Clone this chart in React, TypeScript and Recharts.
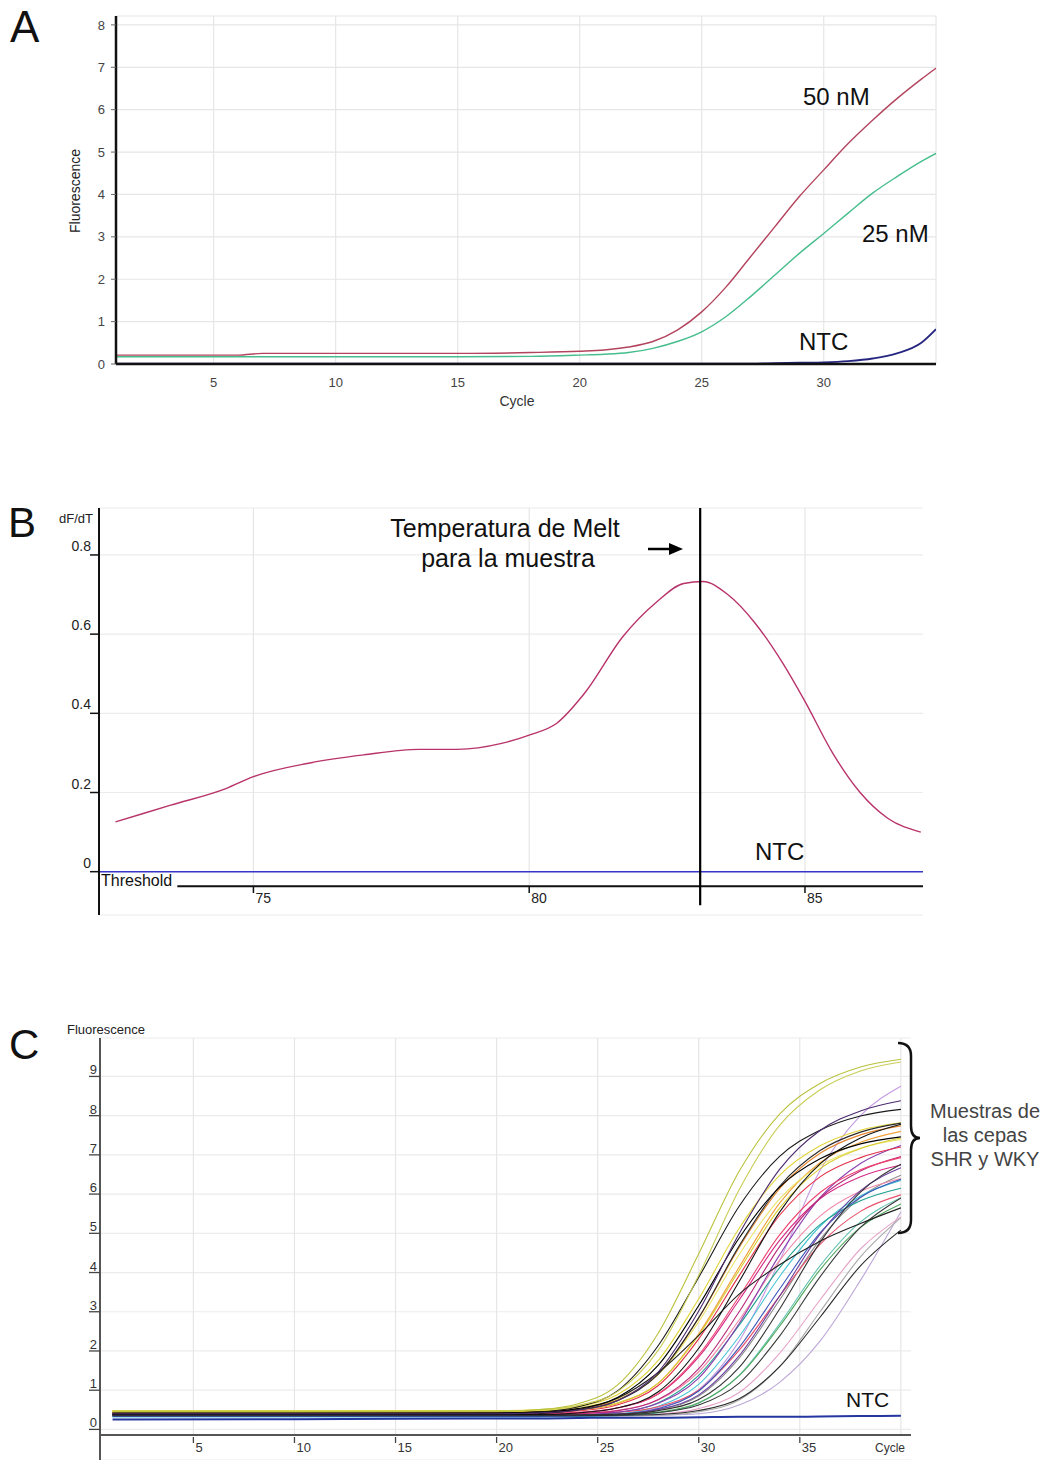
import React from 'react';
import { LineChart, Line, XAxis, YAxis, CartesianGrid, ReferenceLine } from 'recharts';

const FONT = '"Liberation Sans", Arial, Helvetica, sans-serif';

// ---------------- Panel A : amplification (primer concentration) ----------------
const cyclesA = [1, 6, 7, 10, 15, 18, 20, 21, 22, 23, 24, 25, 26, 27, 28, 29, 30, 31, 32, 33, 34, 34.6];
const fluor50nM = [0.21, 0.21, 0.25, 0.25, 0.25, 0.27, 0.30, 0.33, 0.40, 0.53, 0.80, 1.23, 1.82, 2.53, 3.24, 3.95, 4.58, 5.20, 5.75, 6.26, 6.72, 6.98];
const fluor25nM = [0.17, 0.17, 0.17, 0.17, 0.17, 0.18, 0.21, 0.23, 0.27, 0.37, 0.53, 0.76, 1.12, 1.59, 2.10, 2.61, 3.08, 3.56, 4.03, 4.42, 4.78, 4.97];
const fluorNtcA = [0.01, 0.01, 0.01, 0.01, 0.01, 0.01, 0.01, 0.01, 0.01, 0.01, 0.01, 0.01, 0.01, 0.01, 0.02, 0.03, 0.04, 0.07, 0.13, 0.25, 0.50, 0.82];
const xTicksA = [5, 10, 15, 20, 25, 30];
const yTicksA = [0, 1, 2, 3, 4, 5, 6, 7, 8];

// ---------------- Panel B : melt curve ----------------
const tempsB = [72.2, 72.5, 73.5, 74.5, 75.0, 76.0, 77.0, 78.0, 78.7, 79.5, 80.0, 80.5, 81.0, 81.7, 82.3, 82.8, 83.15, 83.6, 84.1, 84.6, 85.0, 85.5, 86.0, 86.5, 87.1, 87.14];
const dfdtSampleB = [null, 0.126, 0.168, 0.21, 0.24, 0.274, 0.295, 0.309, 0.309, 0.324, 0.345, 0.375, 0.45, 0.594, 0.68, 0.728, 0.733, 0.70, 0.627, 0.526, 0.43, 0.30, 0.20, 0.135, 0.10, null];
const dfdtNtcB = [0, 0, 0, 0, 0, 0, 0, 0, 0, 0, 0, 0, 0, 0, 0, 0, 0, 0, 0, 0, 0, 0, 0, 0, 0, 0];
const meltTemp = 83.1;
const thresholdLevel = -0.0366;
const thresholdStart = 73.62;
const xTicksB = [75, 80, 85];
const yTicksB = [0, 0.2, 0.4, 0.6, 0.8];

// ---------------- Panel C : SHR / WKY samples ----------------
const cyclesC = [1, 10, 20, 22, 24, 26, 28, 30, 32, 34, 36, 38, 40];
const sample01 = [0.45, 0.45, 0.46, 0.50, 0.65, 1.14, 2.46, 4.48, 6.58, 8.04, 8.82, 9.24, 9.44];
const sample02 = [0.47, 0.47, 0.47, 0.50, 0.61, 0.97, 2.02, 3.93, 6.11, 7.75, 8.66, 9.14, 9.37];
const sample03 = [0.40, 0.40, 0.41, 0.44, 0.57, 0.99, 2.14, 3.88, 5.69, 6.96, 7.63, 7.99, 8.16];
const sample04 = [0.40, 0.40, 0.40, 0.42, 0.49, 0.74, 1.47, 3.02, 4.99, 6.63, 7.62, 8.12, 8.38];
const sample05 = [0.42, 0.42, 0.42, 0.44, 0.50, 0.74, 1.41, 2.85, 4.68, 6.20, 7.11, 7.58, 7.81];
const sample06 = [0.48, 0.48, 0.48, 0.50, 0.59, 0.89, 1.76, 3.33, 5.13, 6.48, 7.23, 7.63, 7.82];
const sample07 = [0.44, 0.44, 0.44, 0.45, 0.49, 0.66, 1.18, 2.44, 4.14, 5.77, 6.80, 7.32, 7.60];
const sample08 = [0.48, 0.48, 0.48, 0.49, 0.56, 0.78, 1.40, 2.75, 4.46, 5.88, 6.73, 7.17, 7.39];
const sample09 = [0.42, 0.42, 0.42, 0.43, 0.47, 0.63, 1.12, 2.31, 3.92, 5.46, 6.44, 6.93, 7.20];
const sample10 = [0.40, 0.40, 0.40, 0.40, 0.43, 0.55, 0.90, 1.85, 3.30, 4.82, 5.88, 6.44, 6.74];
const sample11 = [0.40, 0.40, 0.40, 0.40, 0.42, 0.49, 0.75, 1.47, 2.79, 4.31, 5.44, 6.07, 6.40];
const sample12 = [0.38, 0.38, 0.38, 0.38, 0.42, 0.55, 0.96, 2.07, 3.77, 5.54, 6.77, 7.43, 7.78];
const sample13 = [0.34, 0.34, 0.34, 0.34, 0.36, 0.43, 0.68, 1.38, 2.66, 4.12, 5.22, 5.83, 6.15];
const sample14 = [0.32, 0.32, 0.32, 0.32, 0.33, 0.39, 0.59, 1.15, 2.37, 3.90, 5.18, 5.95, 6.35];
const sample15 = [0.36, 0.36, 0.36, 0.36, 0.37, 0.44, 0.67, 1.31, 2.70, 4.45, 5.91, 6.78, 7.24];
const sample16 = [0.36, 0.36, 0.36, 0.36, 0.37, 0.40, 0.55, 1.01, 2.25, 4.30, 6.60, 8.00, 8.75];
const sample17 = [0.38, 0.38, 0.38, 0.40, 0.50, 0.80, 1.45, 2.40, 3.45, 4.20, 4.80, 5.25, 5.65];
const sample18 = [0.40, 0.40, 0.40, 0.40, 0.41, 0.44, 0.58, 1.00, 2.02, 3.40, 4.72, 5.56, 5.98];
const sample19 = [0.35, 0.35, 0.35, 0.35, 0.36, 0.38, 0.50, 0.85, 1.82, 3.30, 4.84, 5.91, 6.48];
const sample20 = [0.33, 0.33, 0.33, 0.33, 0.34, 0.38, 0.53, 0.98, 2.09, 3.58, 5.01, 5.92, 6.38];
const sample21 = [0.35, 0.35, 0.35, 0.35, 0.35, 0.37, 0.44, 0.68, 1.37, 2.63, 4.07, 5.15, 5.75];
const sample22 = [0.37, 0.37, 0.37, 0.37, 0.37, 0.39, 0.48, 0.76, 1.58, 3.07, 4.77, 6.05, 6.76];
const sample23 = [0.33, 0.33, 0.33, 0.33, 0.33, 0.34, 0.36, 0.40, 0.62, 1.20, 2.25, 3.80, 5.55];
const sample24 = [0.34, 0.34, 0.34, 0.34, 0.34, 0.35, 0.36, 0.45, 0.75, 1.60, 3.00, 4.40, 5.40];
const sample25 = [0.36, 0.36, 0.36, 0.36, 0.36, 0.37, 0.43, 0.62, 1.18, 2.38, 3.89, 5.15, 5.90];
const sample26 = [0.35, 0.35, 0.35, 0.35, 0.35, 0.36, 0.39, 0.53, 0.94, 1.94, 3.30, 4.60, 5.42];
const sample27 = [0.33, 0.33, 0.33, 0.33, 0.33, 0.35, 0.42, 0.67, 1.38, 2.69, 4.17, 5.29, 5.91];
const sample28 = [0.38, 0.38, 0.38, 0.38, 0.40, 0.48, 0.76, 1.55, 3.00, 4.66, 5.90, 6.59, 6.96];
const sample29 = [0.44, 0.44, 0.44, 0.46, 0.52, 0.76, 1.42, 2.84, 4.64, 6.14, 7.04, 7.51, 7.74];
const sample30 = [0.42, 0.42, 0.42, 0.44, 0.53, 0.82, 1.64, 3.16, 4.88, 6.18, 6.90, 7.28, 7.46];
const sample31 = [0.36, 0.36, 0.36, 0.36, 0.37, 0.39, 0.51, 0.88, 1.88, 3.40, 4.98, 6.09, 6.67];
const sample32 = [0.35, 0.35, 0.35, 0.35, 0.35, 0.36, 0.38, 0.48, 0.78, 1.60, 2.86, 4.17, 5.08];
const sample33 = [0.40, 0.40, 0.40, 0.41, 0.43, 0.55, 0.91, 1.90, 3.39, 4.96, 6.04, 6.62, 6.93];
const sample34 = [0.46, 0.46, 0.46, 0.47, 0.51, 0.68, 1.18, 2.40, 4.06, 5.64, 6.65, 7.16, 7.43];
const ntcC = [0.25, 0.26, 0.28, 0.28, 0.29, 0.30, 0.30, 0.31, 0.32, 0.32, 0.33, 0.34, 0.35];
const xTicksC = [5, 10, 15, 20, 25, 30, 35];
const xGridC = [5, 10, 15, 20, 25, 30, 35, 40];
const yTicksC = [0, 1, 2, 3, 4, 5, 6, 7, 8, 9];
const axisLevelC = -0.143;

// drawing order (light first) and colours
const seriesC: { key: string; color: string; values: number[] }[] = [
  { key: 's23', color: '#bba6d6', values: sample23 },
  { key: 's24', color: '#a8a8a8', values: sample24 },
  { key: 's26', color: '#e6a4c8', values: sample26 },
  { key: 's16', color: '#c49ae0', values: sample16 },
  { key: 's19', color: '#8c8c8c', values: sample19 },
  { key: 's27', color: '#62c2b0', values: sample27 },
  { key: 's14', color: '#48c4d4', values: sample14 },
  { key: 's21', color: '#52a85e', values: sample21 },
  { key: 's11', color: '#f088a8', values: sample11 },
  { key: 's13', color: '#1fa08e', values: sample13 },
  { key: 's18', color: '#e8506a', values: sample18 },
  { key: 's20', color: '#3a56b8', values: sample20 },
  { key: 's31', color: '#6c3fa0', values: sample31 },
  { key: 's15', color: '#8a3eb0', values: sample15 },
  { key: 's10', color: '#d42a86', values: sample10 },
  { key: 's28', color: '#b8287a', values: sample28 },
  { key: 's33', color: '#ee4470', values: sample33 },
  { key: 's09', color: '#e23048', values: sample09 },
  { key: 's07', color: '#f0a23c', values: sample07 },
  { key: 's29', color: '#e4862e', values: sample29 },
  { key: 's08', color: '#ece46a', values: sample08 },
  { key: 's34', color: '#d8cc30', values: sample34 },
  { key: 's06', color: '#e2d43a', values: sample06 },
  { key: 's25', color: '#3a3a3a', values: sample25 },
  { key: 's32', color: '#2b2b2b', values: sample32 },
  { key: 's22', color: '#333333', values: sample22 },
  { key: 's17', color: '#202020', values: sample17 },
  { key: 's12', color: '#111111', values: sample12 },
  { key: 's05', color: '#2a2a2a', values: sample05 },
  { key: 's30', color: '#000000', values: sample30 },
  { key: 's03', color: '#1a1a1a', values: sample03 },
  { key: 's04', color: '#4b2a6e', values: sample04 },
  { key: 's02', color: '#c9cd55', values: sample02 },
  { key: 's01', color: '#b9c23c', values: sample01 },
];

// ---------------- tables built from arrays ----------------
const dataA = cyclesA.map((c, i) => ({ cycle: c, nm50: fluor50nM[i], nm25: fluor25nM[i], ntc: fluorNtcA[i] }));
const dataB = tempsB.map((t, i) => ({ t, sample: dfdtSampleB[i], ntc: dfdtNtcB[i] }));
const dataC = cyclesC.map((c, i) => {
  const row: Record<string, number> = { cycle: c, ntc: ntcC[i] };
  seriesC.forEach((s) => { row[s.key] = s.values[i]; });
  return row;
});

// ---------------- custom ticks ----------------
const BXTick = (props: any) => {
  const { x, y, payload } = props;
  return (
    <g>
      <line x1={x} x2={x} y1={y - 29} y2={y - 22} stroke="#111" strokeWidth={1.5} />
      <text x={x + 2} y={y - 12} fontSize={14} fill="#222" fontFamily={FONT}>{payload.value}</text>
    </g>
  );
};
const BYTick = (props: any) => {
  const { x, y, payload } = props;
  const v = payload.value;
  return (
    <g>
      <line x1={x - 9} x2={x} y1={y} y2={y} stroke="#111" strokeWidth={1.5} />
      <text x={x - 8} y={y - 4} textAnchor="end" fontSize={14} fill="#222" fontFamily={FONT}>{v === 0 ? '0' : String(v)}</text>
    </g>
  );
};
const CXTick = (props: any) => {
  const { x, y, payload } = props;
  return (
    <g>
      <line x1={x} x2={x} y1={y - 23} y2={y - 17} stroke="#444" strokeWidth={1.3} />
      <text x={x + 2} y={y - 8} fontSize={13} fill="#333" fontFamily={FONT}>{payload.value}</text>
    </g>
  );
};
const CYTick = (props: any) => {
  const { x, y, payload } = props;
  return (
    <g>
      <line x1={x - 11} x2={x} y1={y} y2={y} stroke="#444" strokeWidth={1.3} />
      <text x={x - 3} y={y - 2} textAnchor="end" fontSize={13} fill="#333" fontFamily={FONT}>{payload.value}</text>
    </g>
  );
};

export default function App() {
  return (
    <div style={{ position: 'absolute', left: 0, top: 0, width: 1053, height: 1460, overflow: 'hidden', background: '#fff', fontFamily: FONT }}>
      {/* Panel A */}
      <div style={{ position: 'absolute', left: 0, top: 0 }}>
        <LineChart width={1053} height={420} data={dataA} margin={{ top: 16, right: 117, bottom: 26, left: 56 }}>
          <CartesianGrid stroke="#e6e6e6" strokeWidth={1.2} />
          <XAxis dataKey="cycle" type="number" domain={[1, 34.6]} allowDataOverflow ticks={xTicksA} height={30}
            tickLine={false} tickSize={0} tickMargin={14} axisLine={{ stroke: '#111', strokeWidth: 2.5 }}
            tick={{ fontSize: 13, fill: '#444', fontFamily: FONT }} />
          <YAxis type="number" domain={[0, 8.21]} allowDataOverflow ticks={yTicksA} width={60}
            tickSize={5} tickMargin={6} tickLine={{ stroke: '#666' }} axisLine={{ stroke: '#111', strokeWidth: 2.5 }}
            tick={{ fontSize: 13, fill: '#444', fontFamily: FONT }} />
          <Line dataKey="nm25" type="monotone" stroke="#46bd8c" strokeWidth={1.4} dot={false} isAnimationActive={false} />
          <Line dataKey="nm50" type="monotone" stroke="#b3445e" strokeWidth={1.4} dot={false} isAnimationActive={false} />
          <Line dataKey="ntc" type="monotone" stroke="#262680" strokeWidth={1.8} dot={false} isAnimationActive={false} />
        </LineChart>
      </div>

      {/* Panel B */}
      <div style={{ position: 'absolute', left: 0, top: 490 }}>
        <LineChart width={1053} height={440} data={dataB} margin={{ top: 18, right: 130, bottom: 0, left: 39 }}>
          <CartesianGrid stroke="#ececec" strokeWidth={1.2} vertical={false} />
          {xTicksB.map((t) => (
            <ReferenceLine key={'gb' + t} segment={[{ x: t, y: thresholdLevel }, { x: t, y: 0.9186 }]} stroke="#e6e6e6" strokeWidth={1.2} />
          ))}
          <XAxis dataKey="t" type="number" domain={[72.2, 87.14]} allowDataOverflow ticks={xTicksB} height={15}
            axisLine={false} tickLine={false} tickSize={0} tickMargin={0} tick={<BXTick />} />
          <YAxis type="number" domain={[-0.1094, 0.9186]} allowDataOverflow ticks={yTicksB} width={60}
            tickLine={false} tickSize={0} tickMargin={0} axisLine={{ stroke: '#111', strokeWidth: 2 }} tick={<BYTick />} />
          <ReferenceLine segment={[{ x: thresholdStart, y: thresholdLevel }, { x: 87.14, y: thresholdLevel }]} stroke="#111" strokeWidth={2} />
          <Line dataKey="ntc" type="linear" stroke="#3838c8" strokeWidth={1.6} dot={false} isAnimationActive={false} />
          <Line dataKey="sample" type="monotone" stroke="#b8336a" strokeWidth={1.4} dot={false} isAnimationActive={false} />
          <ReferenceLine segment={[{ x: meltTemp, y: 0.9186 }, { x: meltTemp, y: -0.085 }]} stroke="#000" strokeWidth={2.2} />
        </LineChart>
      </div>

      {/* Panel C */}
      <div style={{ position: 'absolute', left: 0, top: 1010 }}>
        <LineChart width={1053} height={460} data={dataC} margin={{ top: 28, right: 142, bottom: 0, left: 40 }}>
          <CartesianGrid stroke="#ececec" strokeWidth={1.2} vertical={false} />
          {xGridC.map((c) => (
            <ReferenceLine key={'gc' + c} segment={[{ x: c, y: axisLevelC }, { x: c, y: 9.98 }]} stroke="#e6e6e6" strokeWidth={1.2} />
          ))}
          <XAxis dataKey="cycle" type="number" domain={[0.38, 40.5]} allowDataOverflow ticks={xTicksC} height={10}
            axisLine={false} tickLine={false} tickSize={0} tickMargin={0} tick={<CXTick />} />
          <YAxis type="number" domain={[-0.78, 9.98]} allowDataOverflow ticks={yTicksC} width={60}
            tickLine={false} tickSize={0} tickMargin={0} axisLine={{ stroke: '#555', strokeWidth: 2 }} tick={<CYTick />} />
          <ReferenceLine segment={[{ x: 0.38, y: axisLevelC }, { x: 40.5, y: axisLevelC }]} stroke="#555" strokeWidth={2} />
          {seriesC.map((s) => (
            <Line key={s.key} dataKey={s.key} type="monotone" stroke={s.color} strokeWidth={1.1} dot={false} isAnimationActive={false} />
          ))}
          <Line dataKey="ntc" type="monotone" stroke="#2436a0" strokeWidth={2} dot={false} isAnimationActive={false} />
        </LineChart>
      </div>

      {/* annotations */}
      <svg width={1053} height={1460} style={{ position: 'absolute', left: 0, top: 0, pointerEvents: 'none' }} fontFamily={FONT}>
        {/* panel letters */}
        <text x={10} y={42} fontSize={44} fill="#111">A</text>
        <text x={8} y={537} fontSize={42} fill="#111">B</text>
        <text x={9} y={1059} fontSize={42} fill="#111">C</text>

        {/* A */}
        <text x={80} y={191} fontSize={14} fill="#222" textAnchor="middle" transform="rotate(-90 80 191)">Fluorescence</text>
        <text x={517} y={406} fontSize={14} fill="#333" textAnchor="middle">Cycle</text>
        <text x={803} y={105} fontSize={24} fill="#111">50 nM</text>
        <text x={862} y={242} fontSize={24} fill="#111">25 nM</text>
        <text x={799} y={350} fontSize={24} fill="#111">NTC</text>

        {/* B */}
        <text x={93} y={523} fontSize={13} fill="#222" textAnchor="end">dF/dT</text>
        <text x={505} y={537} fontSize={25} fill="#111" textAnchor="middle">Temperatura de Melt</text>
        <text x={508} y={567} fontSize={25} fill="#111" textAnchor="middle">para la muestra</text>
        <line x1={648} y1={549} x2={671} y2={549} stroke="#000" strokeWidth={2.5} />
        <polygon points="669,543 683,549 669,555" fill="#000" />
        <text x={755} y={860} fontSize={24} fill="#111">NTC</text>
        <text x={101} y={886} fontSize={16} fill="#111">Threshold</text>

        {/* C */}
        <text x={67} y={1034} fontSize={13} fill="#222">Fluorescence</text>
        <text x={875} y={1452} fontSize={12} fill="#333">Cycle</text>
        <text x={846} y={1407} fontSize={21} fill="#111">NTC</text>
        <path d="M 898 1043 Q 911 1043 911 1056 L 911 1126 Q 911 1138 920 1138 Q 911 1138 911 1150 L 911 1220 Q 911 1233 898 1233"
          fill="none" stroke="#111" strokeWidth={2.5} />
        <text x={985} y={1118} fontSize={20} fill="#444" textAnchor="middle">Muestras de</text>
        <text x={985} y={1142} fontSize={20} fill="#444" textAnchor="middle">las cepas</text>
        <text x={985} y={1166} fontSize={20} fill="#444" textAnchor="middle">SHR y WKY</text>
      </svg>
    </div>
  );
}
